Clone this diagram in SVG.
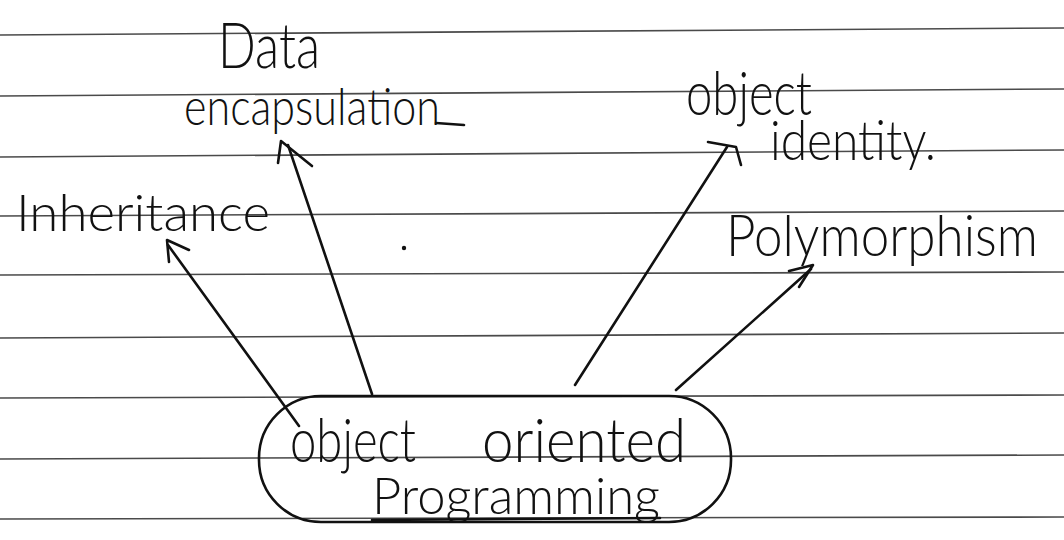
<svg xmlns="http://www.w3.org/2000/svg" width="1064" height="540" viewBox="0 0 1064 540">
  <style>
    .rule { stroke: #4a4a4a; stroke-width: 1.6; fill: none; }
    .ink { stroke: #111; stroke-width: 2.6; fill: none; stroke-linecap: round; stroke-linejoin: round; }
    .hand { font-family: "Lato", "Open Sans", "Liberation Sans", sans-serif; font-weight: 300; fill: #111; }
  </style>

  <!-- paper -->
  <rect x="0" y="0" width="1064" height="540" fill="#ffffff"/>

  <!-- ruled lines, slightly tilted -->
  <g id="rules">
    <path class="rule" d="M0 35 L1064 28"/>
    <path class="rule" d="M0 96 L1064 89"/>
    <path class="rule" d="M0 157 L1064 150"/>
    <path class="rule" d="M0 216 L1064 211"/>
    <path class="rule" d="M0 275 L1064 272"/>
    <path class="rule" d="M0 338 L1064 333"/>
    <path class="rule" d="M0 398 L1064 395"/>
    <path class="rule" d="M0 459 L1064 455"/>
    <path class="rule" d="M0 519 L1064 517"/>
  </g>

  <!-- stray dot -->
  <circle cx="404" cy="248" r="2.2" fill="#111"/>

  <!-- connectors from the centre node out to each concept -->
  <g id="connectors">
    <path class="ink" d="M299 426 L168 245"/>
    <path class="ink" d="M189 250 L167 240 L169 262"/>

    <path class="ink" d="M372 394 L288 145"/>
    <path class="ink" d="M278 163 L281 141 L312 166"/>

    <path class="ink" d="M575 385 L727 147"/>
    <path class="ink" d="M708 142 L736 147 L741 165"/>

    <path class="ink" d="M676 390 L811 269"/>
    <path class="ink" d="M789 271 L813 265 L799 287"/>
  </g>

  <g id="node-oop">
    <rect class="ink" x="259" y="396" width="472" height="126" rx="62" ry="62"/>
    <text class="hand" x="290" y="462" font-size="62" textLength="126" lengthAdjust="spacingAndGlyphs">object</text>
    <text class="hand" x="482" y="462" font-size="62" textLength="204" lengthAdjust="spacingAndGlyphs">oriented</text>
    <text class="hand" x="372" y="514" font-size="52" textLength="288" lengthAdjust="spacingAndGlyphs">Programming</text>
    <path class="ink" d="M372 520 L660 518"/>
  </g>

  <g id="node-encapsulation">
    <text class="hand" x="218" y="68" font-size="64" textLength="102" lengthAdjust="spacingAndGlyphs">Data</text>
    <text class="hand" x="184" y="125" font-size="52" textLength="256" lengthAdjust="spacingAndGlyphs">encapsulation</text>
    <path class="ink" d="M436 123 L464 125"/>
  </g>

  <g id="node-inheritance">
    <text class="hand" x="16" y="231" font-size="52" textLength="254" lengthAdjust="spacingAndGlyphs">Inheritance</text>
  </g>

  <g id="node-identity">
    <text class="hand" x="686" y="115" font-size="62" textLength="126" lengthAdjust="spacingAndGlyphs">object</text>
    <text class="hand" x="770" y="160" font-size="56" textLength="166" lengthAdjust="spacingAndGlyphs">identity.</text>
  </g>

  <g id="node-polymorphism">
    <text class="hand" x="726" y="256" font-size="58" textLength="312" lengthAdjust="spacingAndGlyphs">Polymorphism</text>
  </g>
</svg>
